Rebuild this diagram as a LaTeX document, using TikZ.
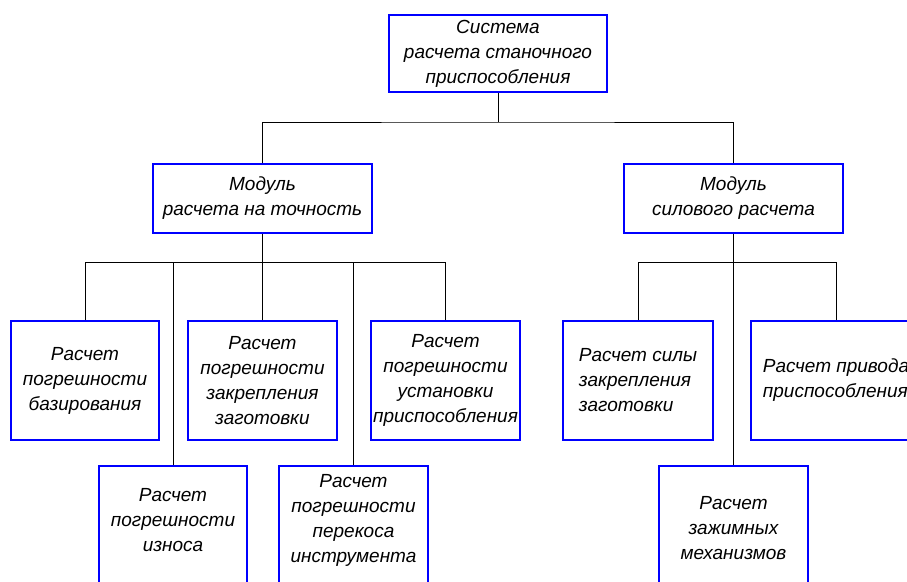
\documentclass[tikz,border=0pt]{standalone}
\usepackage{fontspec}
\setmainfont{Liberation Sans}
\usetikzlibrary{positioning}

\tikzset{
	box/.style = {draw = blue, line width = 1.5pt, fill = white, inner sep = 0pt},
	lbl/.style = {font = \fontsize{19}{25}\selectfont\itshape, align = center, inner sep = 0pt},
	wire/.style = {line width = 0.7pt}
}

\begin{document}
\begin{tikzpicture}[x = 1pt, y = -1pt]

\useasboundingbox (0,0) rectangle (907,581);
\clip (0,0) rectangle (907,581);

\node[box, lbl, minimum width = 218pt, minimum height = 77pt] (sys) at (498,53.5) {Система\\ расчета станочного\\ приспособления};

\node[box, lbl, minimum width = 219pt, minimum height = 69pt] (mod1) at (262.5,198.5) {Модуль\\ расчета на точность};
\node[box, lbl, minimum width = 219pt, minimum height = 69pt] (mod2) at (733.5,198.5) {Модуль\\ силового расчета};

\node[box, lbl, minimum width = 148pt, minimum height = 119pt] (baz) at (85,380.5) {Расчет\\ погрешности\\ базирования};
\node[box, lbl, minimum width = 149pt, minimum height = 119pt] (zakr) at (262.5,380.5) {Расчет\\ погрешности\\ закрепления\\ заготовки};
\node[box, lbl, minimum width = 149pt, minimum height = 119pt] (ust) at (445.5,380.5) {Расчет\\ погрешности\\ установки\\ приспособления};
\node[box, lbl, align = left, minimum width = 150pt, minimum height = 119pt] (sila) at (638,380.5) {Расчет силы\\ закрепления\\ заготовки};
\node[box, lbl, align = left, minimum width = 170pt, minimum height = 119pt] (priv) at (836,380.5) {Расчет привода\\ приспособления};

\node[box, anchor = north, minimum width = 148pt, minimum height = 160pt] (iznos) at (173,465) {};
\node[box, anchor = north, minimum width = 149pt, minimum height = 160pt] (perekos) at (353.5,465) {};
\node[box, anchor = north, minimum width = 149pt, minimum height = 160pt] (mech) at (733.5,465) {};
\node[lbl, anchor = north] (iznos-t) at (173,488) {Расчет\\ погрешности\\ износа};
\node[lbl, anchor = north] (perekos-t) at (353.5,474) {Расчет\\ погрешности\\ перекоса\\ инструмента};
\node[lbl, anchor = north] (mech-t) at (733.5,496) {Расчет\\ зажимных\\ механизмов};

\coordinate (bus0) at (498,122);
\coordinate (bus1) at (262.5,262);
\coordinate (bus2) at (733.5,262);

\draw[wire] (sys.south) -- (bus0);
\draw[wire] (mod1.north) |- (bus0) -| (mod2.north);
\draw[wire] (mod1.south) -- (bus1);
\draw[wire] (mod2.south) -- (bus2);
\foreach \b in {baz,iznos,zakr,perekos,ust}
	\draw[wire] (\b.north) |- (bus1);
\foreach \b in {sila,mech,priv}
	\draw[wire] (\b.north) |- (bus2);

\end{tikzpicture}
\end{document}
